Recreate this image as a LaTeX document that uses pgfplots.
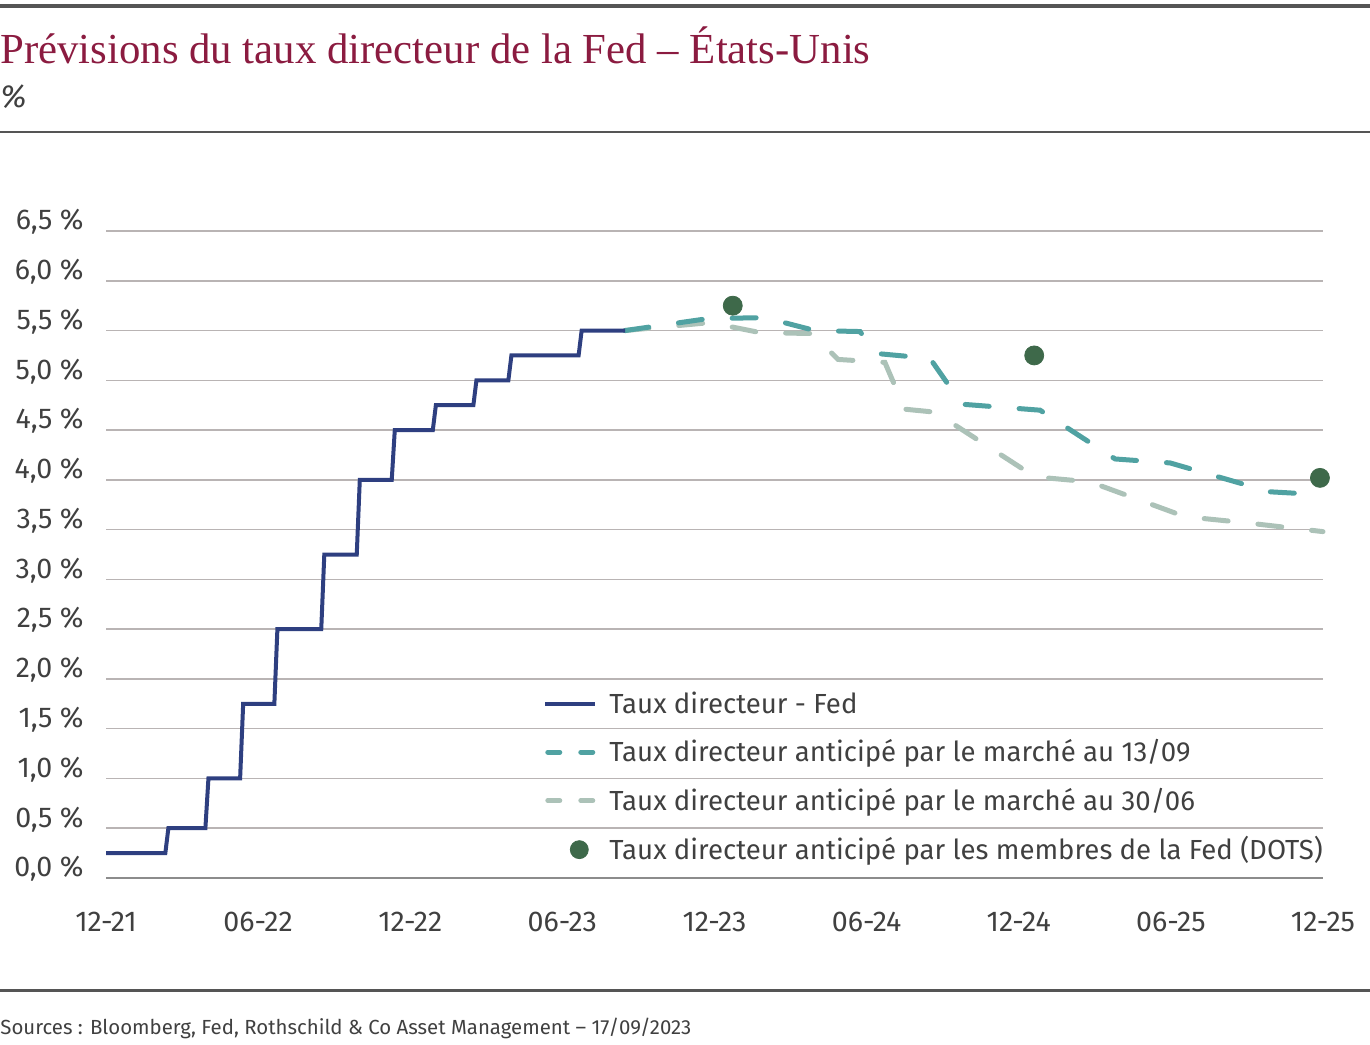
\documentclass[border=0pt]{standalone}
\usepackage{pgfplots}
\pgfplotsset{compat=1.18}
\usepackage{fontspec}
\setmainfont{Fira Sans}
\newfontfamily\titlefont{Liberation Serif}

\definecolor{fedblue}{RGB}{46,63,128}
\definecolor{teal13}{RGB}{80,162,162}
\definecolor{grey30}{RGB}{172,194,184}
\definecolor{dotgreen}{RGB}{62,105,74}
\definecolor{titlered}{RGB}{139,27,64}
\definecolor{txt}{RGB}{64,64,64}
\definecolor{rulec}{RGB}{85,85,85}
\definecolor{gridc}{RGB}{185,180,180}
\definecolor{zeroc}{RGB}{140,140,140}

\begin{document}
\begin{tikzpicture}
\useasboundingbox (0,0) rectangle (685pt,-522pt);

% rules, title, source
\draw[rulec, line width=2pt] (0,-3pt) -- (685pt,-3pt);
\draw[rulec, line width=1.25pt] (0,-66pt) -- (685pt,-66pt);
\draw[rulec, line width=1.5pt] (0,-495pt) -- (685pt,-495pt);
\node[anchor=base west, inner sep=0pt, text=titlered,
      font=\titlefont\fontsize{21.4}{24}\selectfont] at (0,-31.5pt)
      {Prévisions du taux directeur de la Fed – États-Unis};
\node[anchor=base west, inner sep=0pt, text=txt,
      font=\itshape\fontsize{16}{18}\selectfont] at (0,-53.5pt) {\%};
\node[anchor=base west, inner sep=0pt, text=txt,
      font=\fontsize{10.2}{12}\selectfont] at (0,-517pt)
      {Sources : Bloomberg, Fed, Rothschild \& Co Asset Management – 17/09/2023};

\begin{axis}[
    at={(53pt,-439pt)}, anchor=south west,
    scale only axis, width=608.5pt, height=323.5pt,
    xmin=0, xmax=48, ymin=0, ymax=6.5,
    clip=false,
    axis line style={draw=none},
    tick style={draw=none},
    xtick={0,6,...,48},
    xticklabels={12-21,06-22,12-22,06-23,12-23,06-24,12-24,06-25,12-25},
    ytick={0,0.5,...,6.5},
    yticklabel={\pgfmathprintnumber[fixed,fixed zerofill,precision=1,use comma]{\tick}\ \%},
    /pgf/number format/assume math mode=true,
    ymajorgrids,
    grid style={gridc, line width=0.75pt},
    ticklabel style={font=\fontsize{14.3}{16}\selectfont, text=txt, inner sep=0pt},
    yticklabel style={anchor=base east, xshift=-11pt, yshift=0.6pt},
    xticklabel style={anchor=base, yshift=-26.5pt},
    legend cell align=left,
    legend style={draw=none, fill=none, inner sep=0pt,
        at={(axis description cs:0.359,0.2915)}, anchor=north west,
        font=\fontsize{13.8}{16}\selectfont, text=txt,
        row sep=9.6pt,
        nodes={inner sep=1pt},
        /tikz/every odd column/.append style={column sep=5pt}},
    legend image code/.code={\draw[#1] (0pt,0pt) -- (25pt,0pt);},
]
% legend images
\addlegendimage{fedblue, line width=2pt}
\addlegendentry{Taux directeur - Fed}
\addlegendimage{legend image code/.code={\draw[teal13, line width=2.5pt, line cap=round, dash pattern=on 6pt off 10.5pt] (1.25pt,0pt) -- (23.75pt,0pt);}}
\addlegendentry{Taux directeur anticipé par le marché au 13/09}
\addlegendimage{legend image code/.code={\draw[grey30, line width=2.5pt, line cap=round, dash pattern=on 6pt off 10.5pt] (1.25pt,0pt) -- (23.75pt,0pt);}}
\addlegendentry{Taux directeur anticipé par le marché au 30/06}
\addlegendimage{legend image code/.code={\fill[dotgreen] (17pt,0pt) circle (4.5pt);}}
\addlegendentry{Taux directeur anticipé par les membres de la Fed (DOTS)}

% zero line
\draw[zeroc, line width=0.8pt] (axis cs:0,0) -- (axis cs:48,0);

% market expectations at 30/06
\addplot[forget plot, grey30, line width=2.5pt, line cap=round, dash pattern=on 12pt off 15pt] coordinates {
 (20.47,5.50) (23.82,5.58) (25.79,5.48) (27.85,5.47) (28.87,5.21)
 (30.72,5.18) (31.51,4.71) (32.70,4.68) (36.64,4.03) (38.81,3.98)
 (42.56,3.63) (44.92,3.57) (48.00,3.48)
};
% market expectations at 13/09
\addplot[forget plot, teal13, line width=2.5pt, line cap=round, dash pattern=on 12pt off 15pt] coordinates {
 (20.47,5.50) (23.74,5.62) (25.99,5.63) (27.96,5.50) (29.74,5.49)
 (30.37,5.27) (32.50,5.22) (33.76,4.76) (36.84,4.70) (39.80,4.21)
 (41.97,4.17) (45.91,3.88) (48.00,3.85)
};
% Fed policy rate (upper bound)
\addplot[forget plot, fedblue, line width=2pt] coordinates {
 (0,0.25) (2.34,0.25) (2.46,0.50) (3.92,0.50) (4.04,1.00)
 (5.29,1.00) (5.41,1.75) (6.64,1.75) (6.76,2.50) (8.49,2.50)
 (8.61,3.25) (9.89,3.25) (10.01,4.00) (11.27,4.00) (11.39,4.50)
 (12.89,4.50) (13.01,4.75) (14.49,4.75) (14.61,5.00) (15.87,5.00)
 (15.99,5.25) (18.64,5.25) (18.76,5.50) (20.47,5.50)
};
% FOMC dots
\addplot[forget plot, only marks, mark=*, mark size=4.75pt, dotgreen] coordinates {
 (24.72,5.75) (36.61,5.25) (47.88,4.02)
};
\end{axis}
\end{tikzpicture}
\end{document}
